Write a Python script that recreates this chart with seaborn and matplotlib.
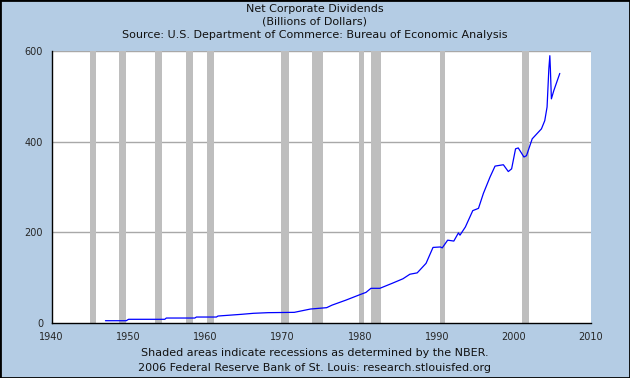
import matplotlib
matplotlib.use("Agg")
import matplotlib.pyplot as plt
import seaborn as sns
import pandas as pd

years = [1947.0, 1949.7, 1950.0, 1954.7, 1954.9, 1958.6, 1958.8, 1961.4, 1961.6,
         1964.6, 1966.2, 1968.1, 1971.5, 1973.6, 1975.7, 1976.4, 1978.2, 1980.1,
         1980.8, 1981.45, 1982.6, 1984.2, 1985.6, 1986.5, 1987.45, 1988.6, 1989.5,
         1990.45, 1990.7, 1991.4, 1992.2, 1992.8, 1993.0, 1993.7, 1994.66, 1995.4,
         1996.04, 1996.9, 1997.55, 1998.63, 1999.27, 1999.7, 2000.21, 2000.56,
         2001.3, 2001.63, 2002.37, 2003.57, 2004.0, 2004.3, 2004.53, 2004.66,
         2004.73, 2004.86, 2005.17, 2005.95]
dividends = [5.7, 5.7, 8.8, 8.8, 11.6, 11.6, 13.8, 13.8, 16.0,
             19.7, 22.0, 23.4, 24.1, 31.4, 34.4, 40.0, 51.0, 63.6,
             68.0, 77.0, 77.0, 88.0, 98.0, 108.0, 111.0, 132.0, 167.0,
             168.0, 166.0, 183.0, 181.0, 199.0, 194.0, 212.0, 248.0, 253.0,
             286.0, 322.0, 346.0, 349.0, 334.0, 340.0, 384.0, 386.0,
             366.0, 369.0, 406.0, 428.0, 446.0, 476.0, 560.0, 589.0,
             560.0, 494.0, 512.0, 550.0]

rec_start = [1945.0, 1948.75, 1953.4, 1957.5, 1960.15, 1969.8, 1973.75, 1979.9, 1981.45, 1990.45, 2001.1]
rec_end = [1945.8, 1949.7, 1954.4, 1958.3, 1961.1, 1970.8, 1975.2, 1980.5, 1982.8, 1991.1, 2001.9]

x_ticks = [1940, 1950, 1960, 1970, 1980, 1990, 2000, 2010]
y_ticks = [0, 200, 400, 600]

title_lines = ["Net Corporate Dividends", "(Billions of Dollars)",
               "Source: U.S. Department of Commerce: Bureau of Economic Analysis"]
footer_lines = ["Shaded areas indicate recessions as determined by the NBER.",
                "2006 Federal Reserve Bank of St. Louis: research.stlouisfed.org"]

sns.set_style("white")
plt.rcParams['font.family'] = ['DejaVu Sans']

bg = "#B4CCE4"
fig = plt.figure(figsize=(6.3, 3.78), dpi=100, facecolor=bg)
fig.patches.append(plt.Rectangle((0, 0), 1, 1, transform=fig.transFigure,
                                 fill=False, edgecolor="black", linewidth=2))
ax = fig.add_axes([51.5 / 630, 1 - 323.3 / 378, (591 - 51.5) / 630, (323.3 - 50.7) / 378])
ax.set_facecolor("white")

for s, e in zip(rec_start, rec_end):
    ax.axvspan(s, e, color="#BEBEBE", lw=0, zorder=1)

for yv in y_ticks[1:]:
    ax.axhline(yv, color="#A8A8A8", lw=1, zorder=0.5)

df = pd.DataFrame({"year": years, "value": dividends})
sns.lineplot(data=df, x="year", y="value", ax=ax, color="#0000FF", lw=0.9, zorder=3)

ax.set_xlim(1940, 2010)
ax.set_ylim(0, 600)
ax.set_xticks(x_ticks)
ax.set_yticks(y_ticks)
ax.set_xticklabels([str(t) for t in x_ticks], fontsize=7)
ax.set_yticklabels([str(t) for t in y_ticks], fontsize=7)
ax.tick_params(direction="in", length=4, width=1, color="black")
ax.tick_params(axis="x", pad=6)
ax.tick_params(axis="y", pad=6)
ax.set_xlabel("")
ax.set_ylabel("")
for side in ["top", "right"]:
    ax.spines[side].set_visible(False)
for side in ["left", "bottom"]:
    ax.spines[side].set_color("black")
    ax.spines[side].set_linewidth(1)

for i, t in enumerate(title_lines):
    fig.text(0.5, 1 - (9 + 12.8 * i) / 378, t, ha="center", va="center", fontsize=8, color="#111111")
for i, t in enumerate(footer_lines):
    fig.text(0.5, 1 - (352.7 + 15 * i) / 378, t, ha="center", va="center", fontsize=8, color="#111111")

fig.savefig("out.png", dpi=100, facecolor=bg)
